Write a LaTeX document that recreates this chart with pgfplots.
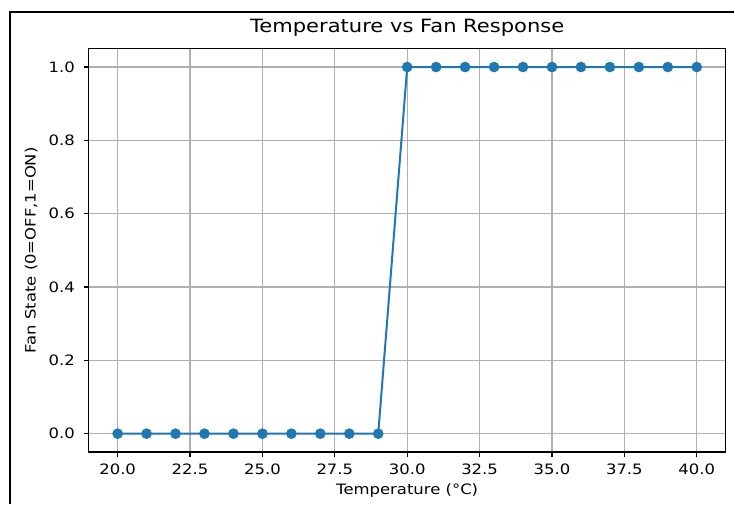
\documentclass[border=0pt]{standalone}
\usepackage{fontspec}
\setmainfont[FakeStretch=1.15]{DejaVu Sans}
\usepackage{pgfplots}
\pgfplotsset{compat=1.18}
\definecolor{c0}{HTML}{1F77B4}
\definecolor{gridc}{HTML}{B0B0B0}
\begin{document}
\begin{tikzpicture}
\path[use as bounding box] (-88.7pt,-52pt) rectangle (646.3pt,452pt);
\draw[line width=2pt, black] (-78.7pt,-52pt) -- (-78.7pt,441pt);
\draw[line width=2pt, black] (-79.7pt,440pt) -- (645pt,440pt);
\begin{axis}[
  at={(0pt,0pt)}, anchor=south west,
  scale only axis, width=637pt, height=403.3pt,
  xmin=19, xmax=41, ymin=-0.05, ymax=1.05,
  xtick={20,22.5,25,27.5,30,32.5,35,37.5,40},
  ytick={0,0.2,0.4,0.6,0.8,1},
  xtick pos=left, ytick pos=left,
  grid=major, major grid style={gridc, line width=1.1pt},
  axis line style={line width=1.1pt, black},
  tick align=outside, major tick length=5pt,
  tick style={black, line width=1.1pt},
  /pgf/number format/assume math mode=true,
  tick label style={font=\fontsize{14.3}{16}\selectfont,
    /pgf/number format/fixed, /pgf/number format/fixed zerofill,
    /pgf/number format/precision=1},
  xticklabel style={anchor=north, inner sep=0pt, yshift=-6.3pt},
  yticklabel style={anchor=east, inner sep=0pt, xshift=-8.7pt},
  title={Temperature vs Fan Response},
  title style={at={(axis description cs:0.5,1.0265)}, anchor=base, inner sep=0pt,
    font=\fontsize{18.3}{20}\selectfont},
  xlabel={Temperature (°C)},
  xlabel style={at={(axis description cs:0.5,-0.1066)}, anchor=base, inner sep=0pt,
    font=\fontsize{14.3}{16}\selectfont},
  ylabel={Fan State (0=OFF,1=ON)},
  ylabel style={at={(axis description cs:-0.0835,0.5)}, anchor=base, inner sep=0pt,
    font=\fontsize{14.3}{16}\selectfont},
]
\addplot[c0, line width=2pt, mark=*, mark size=5pt,
  mark options={fill=c0, draw=c0, line width=0.6pt, solid}] coordinates {
  (20,0) (21,0) (22,0) (23,0) (24,0) (25,0) (26,0) (27,0) (28,0) (29,0)
  (30,1) (31,1) (32,1) (33,1) (34,1) (35,1) (36,1) (37,1) (38,1) (39,1) (40,1)
};
\end{axis}
\end{tikzpicture}
\end{document}
